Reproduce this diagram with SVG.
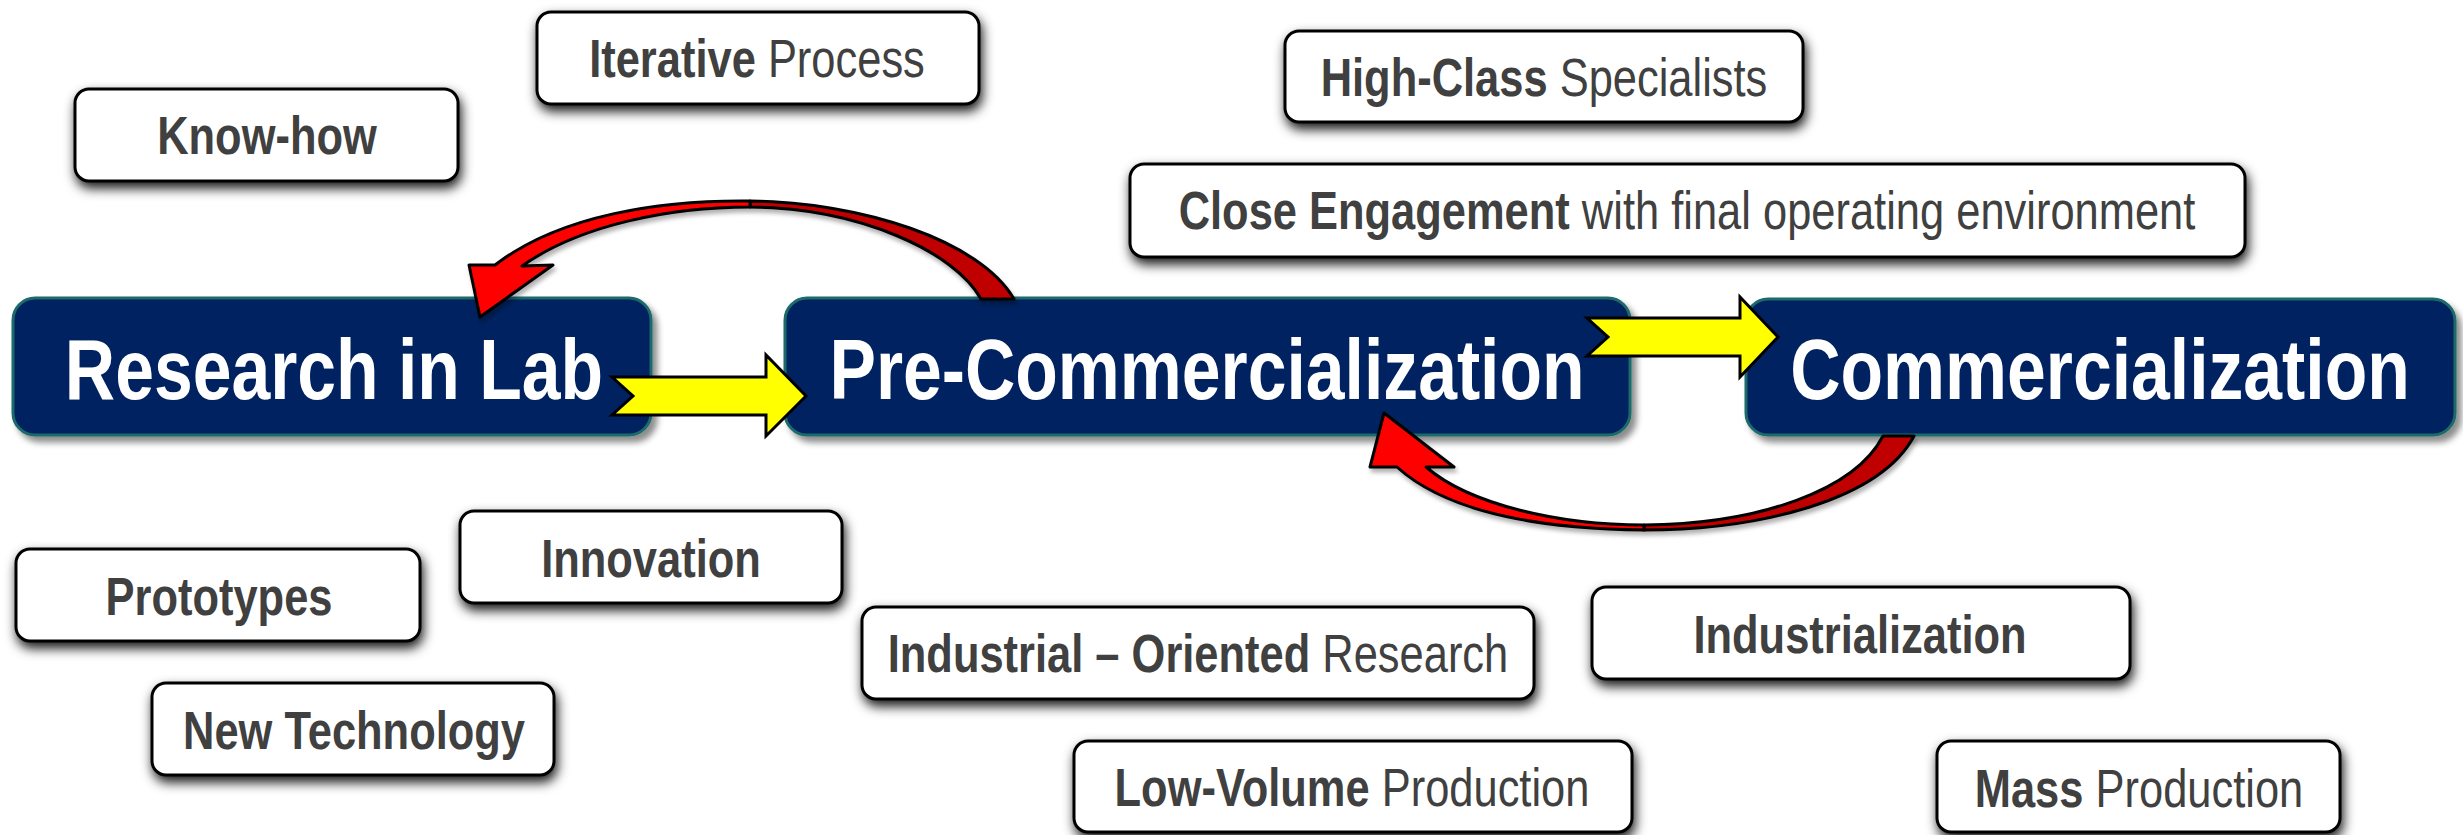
<svg xmlns="http://www.w3.org/2000/svg" width="2463" height="835" viewBox="0 0 2463 835">
  <defs>
    <filter id="shadowMain" x="-10%" y="-20%" width="120%" height="150%">
      <feDropShadow dx="5" dy="6" stdDeviation="3" flood-color="#000" flood-opacity="0.45"/>
    </filter>
    <filter id="shadowTag" x="-10%" y="-30%" width="120%" height="170%">
      <feDropShadow dx="2" dy="6" stdDeviation="6" flood-color="#000" flood-opacity="0.9"/>
    </filter>
    <filter id="shadowArrow" x="-10%" y="-20%" width="120%" height="150%">
      <feDropShadow dx="2" dy="4" stdDeviation="2" flood-color="#000" flood-opacity="0.3"/>
    </filter>
  </defs>
  <style>
    .main rect { fill: #012060; stroke: #1d6b6b; stroke-width: 3; filter: url(#shadowMain); }
    .main text { font-family: "Liberation Sans", Arial, sans-serif; font-weight: bold; font-size: 85px; fill: #ffffff; text-anchor: middle; }
    .tag rect { fill: #ffffff; stroke: #000000; stroke-width: 3; filter: url(#shadowTag); }
    .tag text { font-family: "Liberation Sans", Arial, sans-serif; font-size: 53px; fill: #404040; text-anchor: middle; }
    .b { font-weight: bold; }
    .r { font-weight: normal; }
    .flow { fill: #ffff00; stroke: #000000; stroke-width: 3; stroke-linejoin: miter; }
    .loop { stroke: #000000; stroke-width: 3; stroke-linejoin: round; }
    .front { fill: #ff0000; }
    .back { fill: #c00000; }
  </style>

  <rect width="2463" height="835" fill="#ffffff"/>

  <!-- descriptive tags -->
  <g id="tag-know-how" class="tag">
    <rect x="75" y="89" width="383" height="92" rx="14"/>
    <text transform="translate(267,154) scale(0.82,1)"><tspan class="b">Know-how</tspan></text>
  </g>
  <g id="tag-iterative-process" class="tag">
    <rect x="537" y="12" width="442" height="92" rx="14"/>
    <text transform="translate(757,77) scale(0.82,1)"><tspan class="b">Iterative</tspan><tspan class="r"> Process</tspan></text>
  </g>
  <g id="tag-high-class" class="tag">
    <rect x="1285" y="31" width="518" height="91" rx="14"/>
    <text transform="translate(1544,96) scale(0.82,1)"><tspan class="b">High-Class</tspan><tspan class="r"> Specialists</tspan></text>
  </g>
  <g id="tag-close-engagement" class="tag">
    <rect x="1130" y="164" width="1115" height="93" rx="14"/>
    <text transform="translate(1687,229) scale(0.82,1)"><tspan class="b">Close Engagement</tspan><tspan class="r"> with final operating environment</tspan></text>
  </g>
  <g id="tag-prototypes" class="tag">
    <rect x="16" y="549" width="404" height="92" rx="14"/>
    <text transform="translate(219,615) scale(0.82,1)"><tspan class="b">Prototypes</tspan></text>
  </g>
  <g id="tag-innovation" class="tag">
    <rect x="460" y="511" width="382" height="92" rx="14"/>
    <text transform="translate(651,577) scale(0.82,1)"><tspan class="b">Innovation</tspan></text>
  </g>
  <g id="tag-new-technology" class="tag">
    <rect x="152" y="683" width="402" height="92" rx="14"/>
    <text transform="translate(354,749) scale(0.82,1)"><tspan class="b">New Technology</tspan></text>
  </g>
  <g id="tag-industrial-research" class="tag">
    <rect x="862" y="607" width="672" height="92" rx="14"/>
    <text transform="translate(1198,672) scale(0.82,1)"><tspan class="b">Industrial – Oriented</tspan><tspan class="r"> Research</tspan></text>
  </g>
  <g id="tag-low-volume" class="tag">
    <rect x="1074" y="741" width="558" height="91" rx="14"/>
    <text transform="translate(1352,806) scale(0.82,1)"><tspan class="b">Low-Volume</tspan><tspan class="r"> Production</tspan></text>
  </g>
  <g id="tag-industrialization" class="tag">
    <rect x="1592" y="587" width="538" height="92" rx="14"/>
    <text transform="translate(1860,653) scale(0.82,1)"><tspan class="b">Industrialization</tspan></text>
  </g>
  <g id="tag-mass-production" class="tag">
    <rect x="1937" y="741" width="403" height="91" rx="14"/>
    <text transform="translate(2139,807) scale(0.82,1)"><tspan class="b">Mass</tspan><tspan class="r"> Production</tspan></text>
  </g>

  <!-- stage boxes -->
  <g id="stage-research" class="main">
    <rect x="13" y="298" width="638" height="137" rx="22"/>
    <text transform="translate(334,399) scale(0.82,1)">Research in Lab</text>
  </g>
  <g id="stage-pre-commercialization" class="main">
    <rect x="785" y="298" width="845" height="137" rx="22"/>
    <text transform="translate(1207,399) scale(0.82,1)">Pre-Commercialization</text>
  </g>
  <g id="stage-commercialization" class="main">
    <rect x="1746" y="299" width="709" height="136" rx="22"/>
    <text transform="translate(2100,399) scale(0.82,1)">Commercialization</text>
  </g>

  <!-- connectors -->
  <g id="connectors">
    <!-- forward flow -->
    <polygon class="flow" points="612,377 766,377 766,355 806,396 766,436 766,415 612,415 633,396"/>
    <polygon class="flow" points="1587,318 1740,318 1740,297 1778,337 1740,377 1740,356 1587,356 1608,337"/>

    <!-- feedback: pre-commercialization back to research -->
    <g filter="url(#shadowArrow)">
      <path class="loop back" d="M750,201 C860,202 980,240 1014,299 L981,299 C955,252 860,208 750,207 Z"/>
      <path class="loop front" d="M750,201 C660,200 560,215 495,265 L469,265 L480,317 L553,265 L522,266 C580,225 670,207 750,207 Z"/>
    </g>

    <!-- feedback: commercialization back to pre-commercialization -->
    <g filter="url(#shadowArrow)">
      <path class="loop back" d="M1644,530 C1760,530 1880,500 1914,436 L1883,436 C1855,490 1760,524 1644,525 Z"/>
      <path class="loop front" d="M1644,530 C1550,529 1450,515 1397,467 L1370,467 L1384,413 L1454,467 L1426,467 C1470,505 1560,525 1644,525 Z"/>
    </g>
  </g>
</svg>
